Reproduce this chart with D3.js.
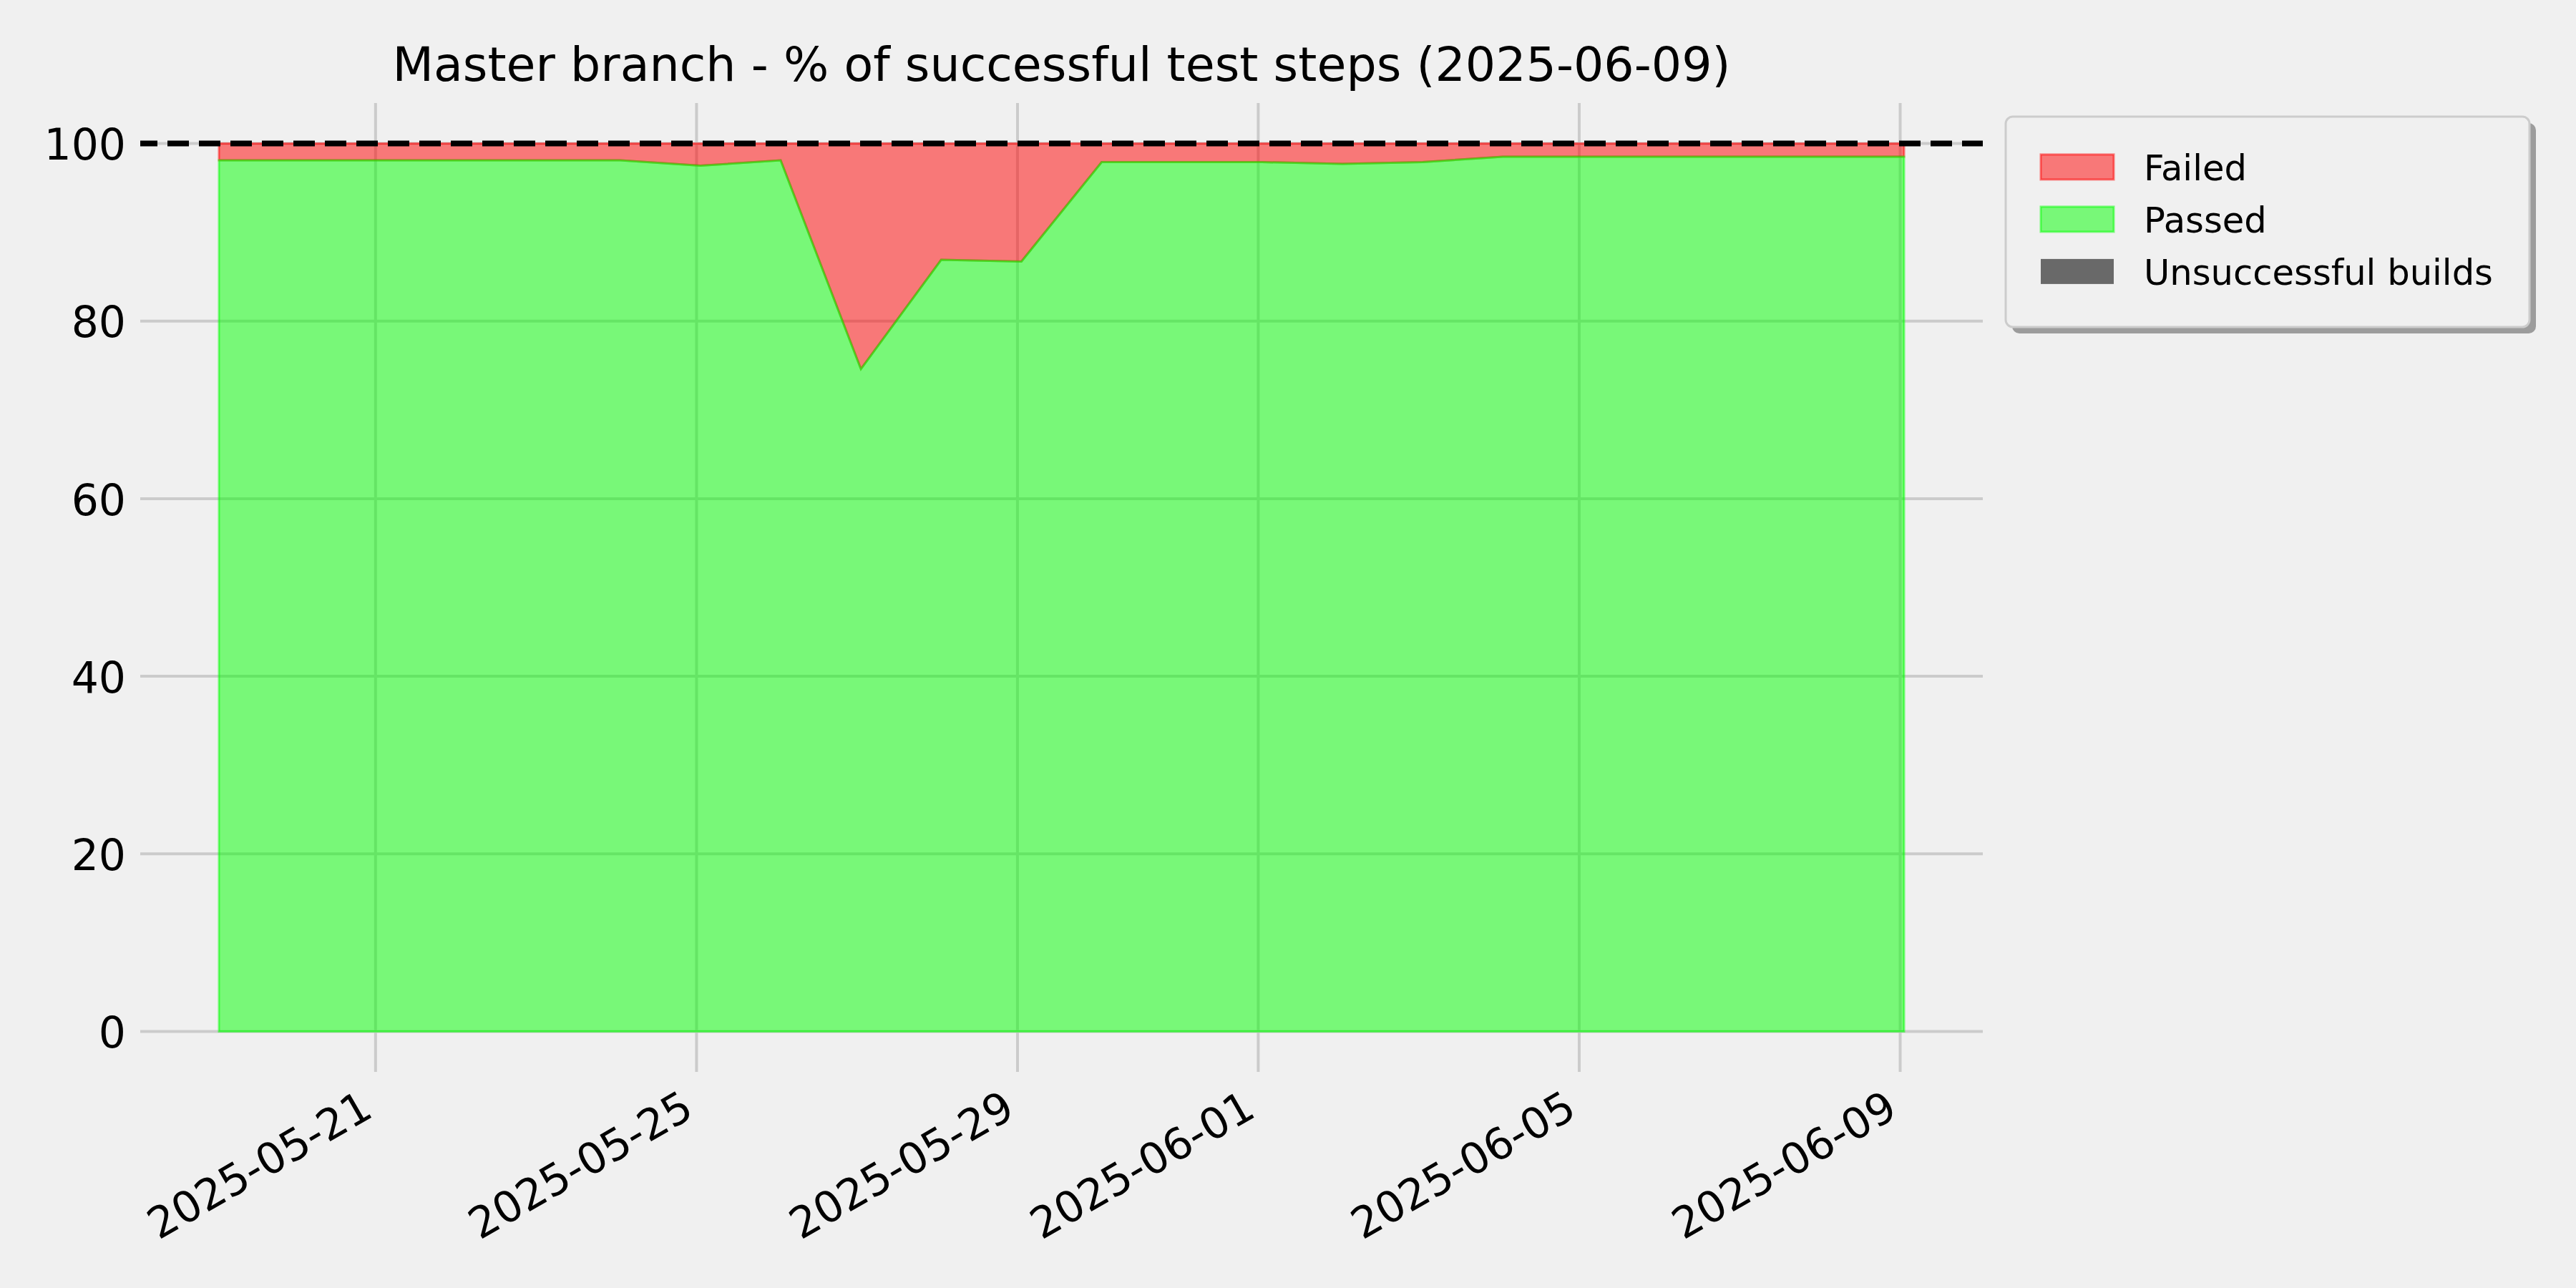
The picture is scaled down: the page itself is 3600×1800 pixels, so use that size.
<!DOCTYPE html>
<html>
<head>
<meta charset="utf-8">
<script src="https://cdn.jsdelivr.net/npm/d3@7"></script>
<style>
  html, body { margin: 0; padding: 0; background: #f0f0f0; }
  svg { display: block; }
  text { font-family: "DejaVu Sans", sans-serif; fill: #000; }
</style>
</head>
<body>
<svg id="chart" width="3600" height="1800"></svg>
<script>
// ---------- data ----------
const dates = [
  "2025-05-19 01:10", "2025-05-20 01:10", "2025-05-21 01:10", "2025-05-22 01:10",
  "2025-05-23 01:10", "2025-05-24 01:10", "2025-05-25 01:10", "2025-05-26 01:10",
  "2025-05-27 01:10", "2025-05-28 01:10", "2025-05-29 01:10", "2025-05-30 01:10",
  "2025-05-31 01:10", "2025-06-01 01:10", "2025-06-02 01:10", "2025-06-03 01:10",
  "2025-06-04 01:10", "2025-06-05 01:10", "2025-06-06 01:10", "2025-06-07 01:10",
  "2025-06-08 01:10", "2025-06-09 01:10"
];
const passed = [98.1, 98.1, 98.1, 98.1, 98.1, 98.1, 97.5, 98.1, 74.6, 86.9, 86.7,
                97.9, 97.9, 97.9, 97.7, 97.9, 98.5, 98.5, 98.5, 98.5, 98.5, 98.5];
const failed = [1.9, 1.9, 1.9, 1.9, 1.9, 1.9, 2.5, 1.9, 25.4, 13.1, 13.3,
                2.1, 2.1, 2.1, 2.3, 2.1, 1.5, 1.5, 1.5, 1.5, 1.5, 1.5];
const unsuccessful = [0, 0, 0, 0, 0, 0, 0, 0, 0, 0, 0, 0, 0, 0, 0, 0, 0, 0, 0, 0, 0, 0];
const xTickLabels = ["2025-05-21", "2025-05-25", "2025-05-29", "2025-06-01", "2025-06-05", "2025-06-09"];
const yTicks = [0, 20, 40, 60, 80, 100];
const targetLine = 100;
const titleText = "Master branch - % of successful test steps (2025-06-09)";
const legendItems = [
  { key: "failed", label: "Failed" },
  { key: "passed", label: "Passed" },
  { key: "unsuccessful", label: "Unsuccessful builds" }
];

// ---------- styles ----------
const colors = {
  failed: { fill: "rgba(255,0,0,0.5)", stroke: "rgba(255,0,0,0.5)" },
  passed: { fill: "rgba(0,255,0,0.5)", stroke: "rgba(0,255,0,0.5)" },
  unsuccessful: { fill: "#696969", stroke: "none" }
};

const parseT = d3.timeParse("%Y-%m-%d %H:%M");
const parseD = d3.timeParse("%Y-%m-%d");
const rows = dates.map((d, i) => ({
  date: parseT(d), unsuccessful: unsuccessful[i], passed: passed[i], failed: failed[i]
}));

const ax = { left: 196, right: 2771, top: 144, bottom: 1498 };

const ext = d3.extent(rows, r => r.date);
const padMs = 0.981 * 24 * 3600 * 1000;
const x = d3.scaleTime()
  .domain([new Date(+ext[0] - padMs), new Date(+ext[1] + padMs)])
  .range([ax.left, ax.right]);
const y = d3.scaleLinear().domain([-4.55, 104.55]).range([ax.bottom, ax.top]);

const svg = d3.select("#chart");
svg.append("rect").attr("width", 3600).attr("height", 1800).attr("fill", "#f0f0f0");

// grid
const xTicks = xTickLabels.map(parseD);
const grid = svg.append("g");
grid.selectAll("line.h").data(yTicks).join("line")
  .attr("x1", ax.left).attr("x2", ax.right)
  .attr("y1", d => y(d)).attr("y2", d => y(d))
  .attr("stroke", "#cbcbcb").attr("stroke-width", 4);
grid.selectAll("line.v").data(xTicks).join("line")
  .attr("x1", d => x(d)).attr("x2", d => x(d))
  .attr("y1", ax.top).attr("y2", ax.bottom)
  .attr("stroke", "#cbcbcb").attr("stroke-width", 4);

// stacked areas
const stack = d3.stack().keys(["unsuccessful", "passed", "failed"]);
const series = stack(rows);
const area = d3.area()
  .x(d => x(d.data.date))
  .y0(d => y(d[0]))
  .y1(d => y(d[1]));
const drawOrder = ["unsuccessful", "failed", "passed"];
const byKey = {};
series.forEach(s => byKey[s.key] = s);
svg.append("g").selectAll("path").data(drawOrder.map(k => byKey[k])).join("path")
  .attr("d", area)
  .attr("fill", s => colors[s.key].fill)
  .attr("stroke", s => colors[s.key].stroke)
  .attr("stroke-width", s => s.key === "unsuccessful" ? 0 : 3)
  .attr("stroke-linejoin", "miter");

// dashed 100% line
svg.append("line")
  .attr("x1", ax.left).attr("x2", ax.right)
  .attr("y1", y(targetLine)).attr("y2", y(targetLine))
  .attr("stroke", "#000").attr("stroke-width", 8)
  .attr("stroke-dasharray", "30 14").attr("stroke-dashoffset", 6);

// y tick labels
svg.append("g").selectAll("text").data(yTicks).join("text")
  .attr("x", 176).attr("y", d => y(d)).attr("dy", "0.38em")
  .attr("text-anchor", "end").attr("font-size", 60)
  .text(d => d3.format("d")(d));

// x tick labels
const fmt = d3.timeFormat("%Y-%m-%d");
svg.append("g").selectAll("text").data(xTicks).join("text")
  .attr("transform", d => `translate(${x(d) - 1},1559) rotate(-30)`)
  .attr("text-anchor", "end").attr("font-size", 60)
  .text(d => fmt(d));

// title
svg.append("text")
  .attr("x", (ax.left + ax.right) / 2).attr("y", 113)
  .attr("text-anchor", "middle").attr("font-size", 66.6)
  .text(titleText);

// legend
const lg = svg.append("g");
lg.append("rect").attr("x", 2812).attr("y", 172).attr("width", 732).attr("height", 294)
  .attr("rx", 10).attr("fill", "#9c9c9c");
lg.append("rect").attr("x", 2803).attr("y", 163).attr("width", 732).attr("height", 294)
  .attr("rx", 10).attr("fill", "#f0f0f0").attr("stroke", "#cccccc").attr("stroke-width", 3);
const li = lg.selectAll("g.item").data(legendItems).join("g")
  .attr("transform", (d, i) => `translate(0,${233.4 + i * 73})`);
li.append("rect").attr("x", 2852).attr("y", -17.5).attr("width", 102).attr("height", 35)
  .attr("fill", d => colors[d.key].fill)
  .attr("stroke", d => d.key === "unsuccessful" ? "none" : colors[d.key].stroke)
  .attr("stroke-width", d => d.key === "unsuccessful" ? 0 : 3);
li.append("text").attr("x", 2996).attr("y", 18.3).attr("font-size", 49.6)
  .text(d => d.label);
</script>
</body>
</html>
